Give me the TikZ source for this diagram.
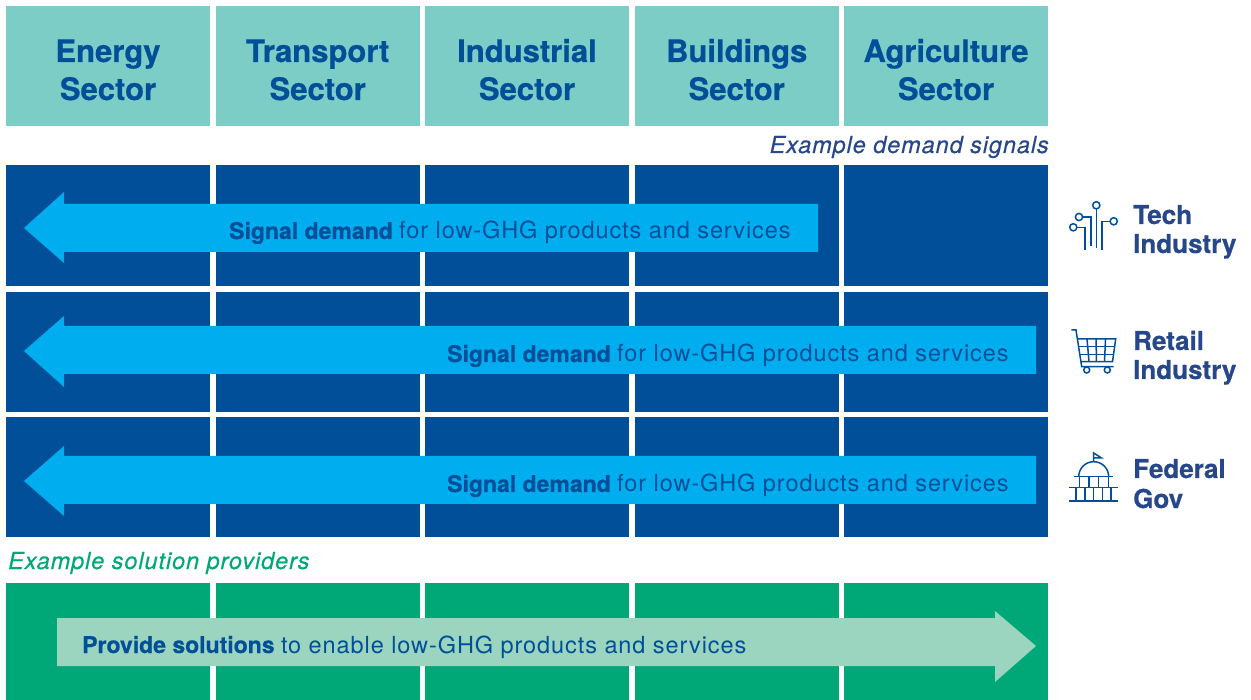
\documentclass[tikz,border=0pt]{standalone}
\usepackage{fontspec}
\setmainfont{TeX Gyre Heros}[BoldFeatures={FakeBold=0.6}]
\newfontfamily\bodyfont[LetterSpace=3.9]{TeX Gyre Heros}
\newfontfamily\notefont[LetterSpace=3.9,ItalicFeatures={FakeBold=0.4}]{TeX Gyre Heros}
\newcommand{\plainpart}[1]{{\fontsize{23.5}{28}\selectfont\bodyfont #1}}
\definecolor{teal}{HTML}{7DCDC7}
\definecolor{navy}{HTML}{004F98}
\definecolor{sky}{HTML}{00ADEF}
\definecolor{grn}{HTML}{00A877}
\definecolor{pale}{HTML}{9BD4BF}
\definecolor{ink}{HTML}{27478B}
\tikzset{
  cell/.style={inner sep=0pt,outer sep=0pt,anchor=north west,minimum width=204pt},
  head/.style={cell,fill=teal,minimum height=120pt},
  headtext/.style={anchor=base,xshift=102pt,inner sep=0pt,text=navy,font=\fontsize{31}{38}\selectfont\bfseries},
  demand/.style={cell,fill=navy,minimum height=120.7pt},
  supply/.style={cell,fill=grn,minimum height=117pt},
  arrowL/.style={fill=sky},
  arrowR/.style={fill=pale},
  msg/.style={anchor=base west,inner sep=0pt,text=navy,font=\fontsize{23}{28}\selectfont},
  side/.style={anchor=base west,inner sep=0pt,text=ink,font=\fontsize{26}{30}\selectfont\bfseries},
  note/.style={inner sep=0pt,font=\fontsize{23.5}{28}\selectfont\notefont\itshape},
  icon/.style={draw=navy,line width=1.5pt,fill=none}
}
\begin{document}
\begin{tikzpicture}[x=1pt,y=-1pt]
\useasboundingbox (0,0) rectangle (1251,700);
% header row
\foreach \n/\x/\w in {1/6/Energy,2/215.7/Transport,3/425/Industrial,4/634.7/Buildings,5/844/Agriculture}{
  \node[head] (h\n) at (\x,6) {};
  \node[headtext] (t\n) at (\x,62) {\w};
  \node[headtext] (u\n) at (\x,100) {Sector};
}
\node[note,text=ink,anchor=base east] (n1) at (1049,153) {Example demand signals};
% demand rows
\foreach \c/\x in {1/6,2/215.7,3/425,4/634.7,5/844}{
  \node[demand] (a\c) at (\x,165) {};
  \node[demand] (b\c) at (\x,291.7) {};
  \node[demand] (c\c) at (\x,416.7) {};
  \node[supply] (d\c) at (\x,583) {};
}
\node[note,text=grn,anchor=base west] (n2) at (8,569) {Example solution providers};
% arrows
\fill[arrowL] (24,228) -- (64,192) -- (64,204) -- (818,204) -- (818,252) -- (64,252) -- (64,263) -- cycle;
\fill[arrowL] (24,351) -- (64,316) -- (64,326) -- (1036,326) -- (1036,374) -- (64,374) -- (64,387) -- cycle;
\fill[arrowL] (24,481) -- (64,446) -- (64,456) -- (1036,456) -- (1036,504) -- (64,504) -- (64,516) -- cycle;
\fill[arrowR] (57,618) -- (995,618) -- (995,611) -- (1036,646) -- (995,682) -- (995,666) -- (57,666) -- cycle;
% messages
\node[msg] (m1) at (229,239) {\textbf{Signal demand} \plainpart{for low-GHG products and services}};
\node[msg] (m2) at (447,362) {\textbf{Signal demand} \plainpart{for low-GHG products and services}};
\node[msg] (m3) at (447,492) {\textbf{Signal demand} \plainpart{for low-GHG products and services}};
\node[msg] (m4) at (82,653) {\textbf{Provide solutions} \plainpart{to enable low-GHG products and services}};
% side labels
\node[side] (s1a) at (1133,224) {Tech};
\node[side] (s1b) at (1133,253) {Industry};
\node[side] (s2a) at (1133,350) {Retail};
\node[side] (s2b) at (1133,379) {Industry};
\node[side] (s3a) at (1133,478) {Federal};
\node[side] (s3b) at (1133,508) {Gov};
% tech icon
\draw[icon] (1096.3,205.3) circle (3.6) (1079,217) circle (3.6) (1073.3,227.3) circle (3.6) (1113.7,221.3) circle (3.6);
\draw[icon] (1096.3,209) -- (1096.3,248);
\draw[icon] (1082.7,217) -- (1091,217) -- (1091,246);
\draw[icon] (1077,227.3) -- (1085,227.3) -- (1085,250);
\draw[icon] (1110,221.3) -- (1102,221.3) -- (1102,250);
% cart icon
\draw[icon] (1071.3,330) -- (1076,330) -- (1081.7,366.7) -- (1113.6,366.7);
\draw[icon] (1077,339) -- (1115.7,339) -- (1112.5,361.7) -- (1080.5,361.7);
\draw[icon] (1078.5,346.7) -- (1114.5,346.7) (1079.7,354.3) -- (1113.5,354.3);
\draw[icon] (1087,339) -- (1089,361.7) (1096,339) -- (1096.5,361.7) (1105.5,339) -- (1104.5,361.7);
\draw[icon] (1086.7,370) circle (3) (1107.3,370) circle (3);
% capitol icon
\draw[icon] (1074,476.7) -- (1113,476.7);
\draw[icon] (1078.7,476.7) arc (180:360:15);
\draw[icon] (1093.7,462) -- (1093.7,453) -- (1101.5,458) -- (1093.7,458);
\draw[icon] (1069,487.7) -- (1118,487.7) (1069,501) -- (1118,501);
\draw[icon] (1079.3,476.7) -- (1079.3,487.7) (1089,476.7) -- (1089,487.7) (1098.7,476.7) -- (1098.7,487.7) (1108.3,476.7) -- (1108.3,487.7);
\draw[icon] (1076,487.7) -- (1076,501) (1085,487.7) -- (1085,501) (1093.7,487.7) -- (1093.7,501) (1102.3,487.7) -- (1102.3,501) (1111,487.7) -- (1111,501);
\end{tikzpicture}
\end{document}
